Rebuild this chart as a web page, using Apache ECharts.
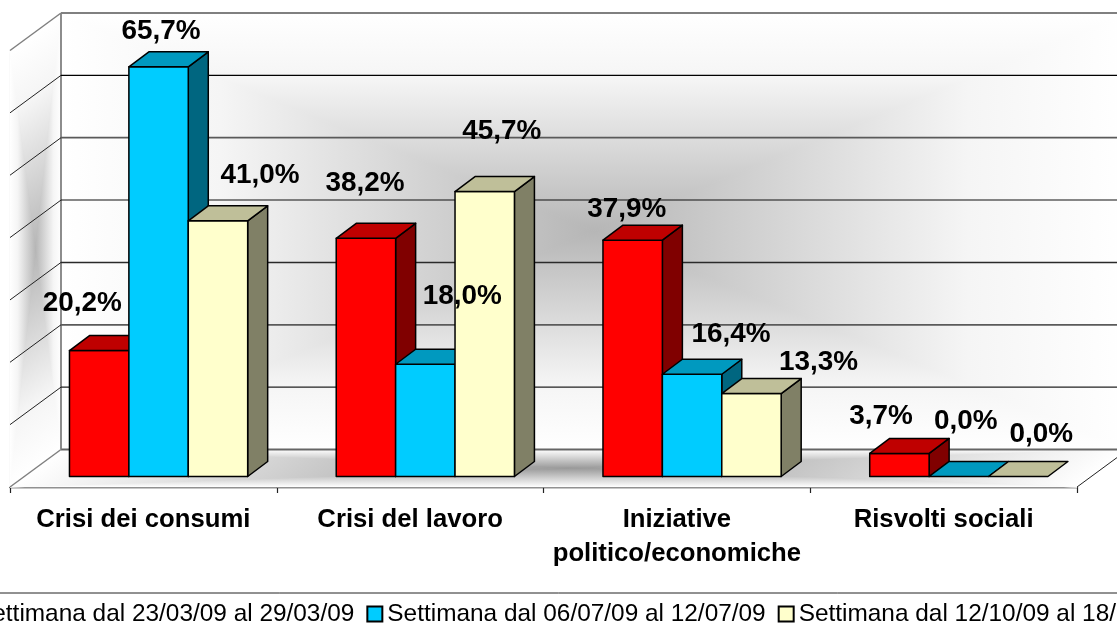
<!DOCTYPE html>
<html>
<head>
<meta charset="utf-8">
<script src="https://cdn.jsdelivr.net/npm/echarts@6/dist/echarts.min.js"></script>
<style>html,body{margin:0;padding:0;background:#fff}#c{width:1117px;height:625px}</style>
</head>
<body>
<div id="c"></div>
<script>
const categories = ['Crisi dei consumi', 'Crisi del lavoro', 'Iniziative\npolitico/economiche', 'Risvolti sociali'];
const weekA = 'Settimana dal 23/03/09 al 29/03/09';
const weekB = 'Settimana dal 06/07/09 al 12/07/09';
const weekC = 'Settimana dal 12/10/09 al 18/10/09';
const valuesA = [20.2, 38.2, 37.9, 3.7];
const valuesB = [65.7, 18.0, 16.4, 0.0];
const valuesC = [41.0, 45.7, 13.3, 0.0];
const yTicks = [0, 10, 20, 30, 40, 50, 60, 70];

// layout of the hand-placed labels (offset from the bar's top-front centre)
const labelShiftA = [[-17, -47], [-1, -55], [-6, -30.5], [-18.5, -37.5]];
const labelShiftB = [[2.5, -36], [37, -68], [39, -39.5], [7, -55.5]];
const labelShiftC = [[42, -45.5], [17, -60.5], [67, -31.5], [23, -42.5]];
// line look of each gridline, keyed by tick value
const gridLook = {
  0: ['#666666', 2], 10: ['#222222', 1.3], 20: ['#5a5a5a', 1.8], 30: ['#2a2a2a', 1.4],
  40: ['#111111', 1.1], 50: ['#5a5a5a', 1.8], 60: ['#000000', 1.1], 70: ['#808080', 2]
};

const BACK = [51, -37.5];      // floor depth
const FRONT = [15.2, -10.5];   // bars sit this far into the floor
const DEPTH = [20, -15];       // bar depth
const BAR_W = 59.4;
const FONT = '"Liberation Sans", Arial, sans-serif';

function pathGradient(corners, stops) {
  const c = [0, 1, 2, 3].reduce((s, i) => [s[0] + corners[i][0] / 4, s[1] + corners[i][1] / 4], [0, 0]);
  return corners.map((a, i) => {
    const b = corners[(i + 1) % 4];
    const d = [b[0] - a[0], b[1] - a[1]];
    const t = ((c[0] - a[0]) * d[0] + (c[1] - a[1]) * d[1]) / (d[0] * d[0] + d[1] * d[1]);
    const foot = [a[0] + t * d[0], a[1] + t * d[1]];
    const g = new echarts.graphic.LinearGradient(foot[0], foot[1], c[0], c[1], stops, true);
    return {type: 'polygon', shape: {points: [a, b, c]}, style: {fill: g, stroke: g, lineWidth: 1}};
  });
}

const wallStops = [{offset: 0, color: '#ffffff'}, {offset: 0.3, color: '#f5f5f5'}, {offset: 1, color: '#b6b6b6'}];
const floorStops = [{offset: 0, color: '#ffffff'}, {offset: 1, color: '#9a9a9a'}];

function wallsItem(params, api) {
  const cs = params.coordSys;
  const x0 = cs.x, x1 = cs.x + cs.width;
  const yb = api.coord([0, 0])[1], yt = api.coord([0, 70])[1];
  const wall = [[x0 + BACK[0], yt + BACK[1]], [x1 + BACK[0], yt + BACK[1]], [x1 + BACK[0], yb + BACK[1]], [x0 + BACK[0], yb + BACK[1]]];
  const side = [[x0, yt], [x0 + BACK[0], yt + BACK[1]], [x0 + BACK[0], yb + BACK[1]], [x0, yb]];
  const floor = [[x0 + BACK[0], yb + BACK[1]], [x1 + BACK[0], yb + BACK[1]], [x1, yb], [x0, yb]];
  return {type: 'group', silent: true, children: [
    ...pathGradient(wall, wallStops),
    ...pathGradient(side, wallStops),
    ...pathGradient(floor, floorStops)
  ]};
}

function gridItem(params, api) {
  const cs = params.coordSys;
  const v = api.value(0);
  const y = api.coord([0, v])[1];
  const x0 = cs.x, x1 = cs.x + cs.width;
  const edge = v === 0 || v === 70;
  const look = gridLook[v];
  const children = [
    {type: 'line', shape: {x1: x0, y1: y, x2: x0 + BACK[0], y2: y + BACK[1]}, style: {stroke: edge ? '#808080' : '#222', lineWidth: edge ? 1.5 : 1}},
    {type: 'line', shape: {x1: x0 + BACK[0], y1: y + BACK[1], x2: x1 + BACK[0], y2: y + BACK[1]}, style: {stroke: look[0], lineWidth: look[1]}}
  ];
  if (v === 0) {
    children.push({type: 'line', shape: {x1: x0 + BACK[0], y1: y + BACK[1], x2: x0 + BACK[0], y2: api.coord([0, 70])[1] + BACK[1]}, style: {stroke: '#808080', lineWidth: 1.8}});
    children.push({type: 'line', shape: {x1: x1, y1: y, x2: x1 + BACK[0], y2: y + BACK[1]}, style: {stroke: '#222', lineWidth: 1}});
  }
  return {type: 'group', silent: true, children};
}

function barRenderer(slot, colors, shifts) {
  return function (params, api) {
    const i = api.value(0), v = api.value(1);
    const c = api.coord([i, v]), base = api.coord([i, 0]);
    const cx = c[0] + FRONT[0] + slot * BAR_W;
    const l = cx - BAR_W / 2, r = cx + BAR_W / 2;
    const t = c[1] + FRONT[1], b = base[1] + FRONT[1];
    const edge = {stroke: '#000', lineWidth: 1.5, lineJoin: 'round'};
    const ch = [];
    if (v > 0) {
      ch.push({type: 'polygon', shape: {points: [[r, t], [r + DEPTH[0], t + DEPTH[1]], [r + DEPTH[0], b + DEPTH[1]], [r, b]]}, style: {fill: colors[2], ...edge}});
      ch.push({type: 'rect', shape: {x: l, y: t, width: BAR_W, height: b - t}, style: {fill: colors[0], ...edge}});
    }
    ch.push({type: 'polygon', shape: {points: [[l, t], [l + DEPTH[0], t + DEPTH[1]], [r + DEPTH[0], t + DEPTH[1]], [r, t]]}, style: {fill: colors[1], ...edge}});
    const s = shifts[i];
    ch.push({type: 'text', z2: 100, style: {
      x: cx + s[0], y: t + s[1],
      text: v.toFixed(1).replace('.', ',') + '%',
      fill: '#000', font: 'bold 27.9px ' + FONT, align: 'center', verticalAlign: 'middle'
    }});
    return {type: 'group', children: ch};
  };
}

function barSeries(name, values, slot, colors, shifts) {
  return {
    name, type: 'custom', coordinateSystem: 'cartesian2d', clip: false, z: 5,
    itemStyle: {color: colors[0], borderColor: '#000', borderWidth: 1},
    encode: {x: 0, y: 1},
    data: values.map((v, i) => [i, v]),
    renderItem: barRenderer(slot, colors, shifts)
  };
}

const chart = echarts.init(document.getElementById('c'), null, {renderer: 'canvas'});
chart.setOption({
  animation: false,
  backgroundColor: '#fff',
  grid: {left: 10, right: 40, top: 50.5, bottom: 138, containLabel: false},
  xAxis: {
    type: 'category', data: categories, boundaryGap: true,
    axisLine: {show: true, lineStyle: {color: '#222', width: 1.4}},
    axisTick: {show: true, length: 6, alignWithLabel: false, lineStyle: {color: '#222', width: 1.2}},
    axisLabel: {interval: 0, color: '#000', fontFamily: FONT, fontWeight: 'bold', fontSize: 25.7, lineHeight: 34, margin: 16}
  },
  yAxis: {
    type: 'value', min: 0, max: 70, interval: 10,
    axisLine: {show: true, lineStyle: {color: '#a0a0a0', width: 1.2}},
    axisTick: {show: false}, axisLabel: {show: false}, splitLine: {show: false}
  },
  legend: {
    data: [weekA, weekB, weekC], icon: 'rect', orient: 'horizontal',
    left: -45, top: 602, width: 1500, padding: 0,
    itemWidth: 15, itemHeight: 15, itemGap: 12,
    textStyle: {color: '#000', fontFamily: FONT, fontSize: 24.4, padding: [0, 0, 0, 0]}
  },
  graphic: [{type: 'line', silent: true, shape: {x1: 0, y1: 593, x2: 1117, y2: 593}, style: {stroke: '#222', lineWidth: 1}}],
  series: [
    {type: 'custom', coordinateSystem: 'cartesian2d', clip: false, silent: true, z: 1, data: [[0, 0]], renderItem: wallsItem},
    {type: 'custom', coordinateSystem: 'cartesian2d', clip: false, silent: true, z: 2, data: yTicks.map(v => [v]), encode: {y: 0}, renderItem: gridItem},
    barSeries(weekA, valuesA, -1, ['#ff0000', '#bf0000', '#800000'], labelShiftA),
    barSeries(weekB, valuesB, 0, ['#00ccff', '#0099bf', '#006680'], labelShiftB),
    barSeries(weekC, valuesC, 1, ['#ffffcc', '#bfbf99', '#808066'], labelShiftC)
  ]
});
</script>
</body>
</html>
